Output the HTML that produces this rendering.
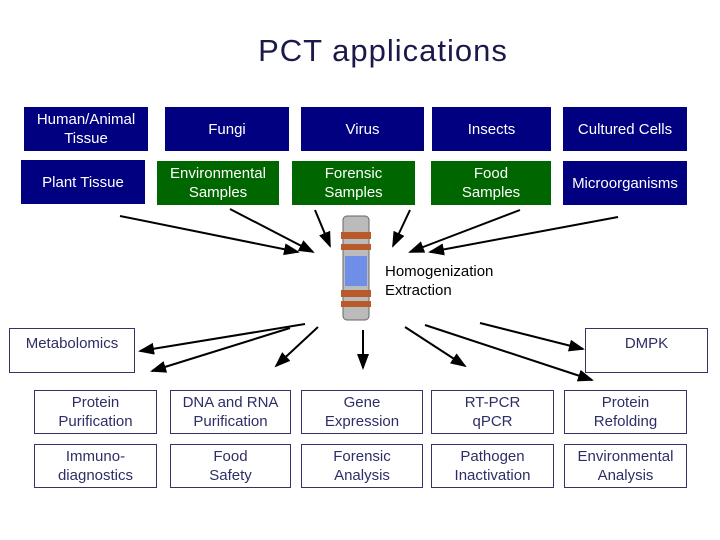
<!DOCTYPE html>
<html><head><style>
body{margin:0;width:720px;height:540px;background:#fff;font-family:"Liberation Sans",sans-serif;position:relative;overflow:hidden}
.b{position:absolute;display:flex;align-items:center;justify-content:center;text-align:center;font-size:15px;line-height:19px;box-sizing:border-box}
.n{background:#000080;color:#fff}
.g{background:#006600;color:#fff}
.o{border:1px solid #333366;color:#2e2e66;background:#fff}
</style></head><body>
<div style="position:absolute;left:0;width:766px;top:33px;text-align:center;font-size:31px;color:#1a1a4a;letter-spacing:1px">PCT applications</div>
<div class="b n" style="left:24px;top:107px;width:124px;height:44px">Human/Animal<br>Tissue</div>
<div class="b n" style="left:165px;top:107px;width:124px;height:44px">Fungi</div>
<div class="b n" style="left:301px;top:107px;width:123px;height:44px">Virus</div>
<div class="b n" style="left:432px;top:107px;width:119px;height:44px">Insects</div>
<div class="b n" style="left:563px;top:107px;width:124px;height:44px">Cultured Cells</div>
<div class="b n" style="left:21px;top:160px;width:124px;height:44px">Plant Tissue</div>
<div class="b g" style="left:157px;top:161px;width:122px;height:44px">Environmental<br>Samples</div>
<div class="b g" style="left:292px;top:161px;width:123px;height:44px">Forensic<br>Samples</div>
<div class="b g" style="left:431px;top:161px;width:120px;height:44px">Food<br>Samples</div>
<div class="b n" style="left:563px;top:161px;width:124px;height:44px">Microorganisms</div>
<div class="b" style="left:385px;top:262px;width:140px;height:38px;justify-content:flex-start;text-align:left;color:#000">Homogenization<br>Extraction</div>
<div class="b o" style="left:9px;top:328px;width:126px;height:45px;align-items:flex-start;padding-top:5px">Metabolomics</div>
<div class="b o" style="left:585px;top:328px;width:123px;height:45px;align-items:flex-start;padding-top:5px">DMPK</div>
<div class="b o" style="left:34px;top:390px;width:123px;height:44px">Protein<br>Purification</div>
<div class="b o" style="left:170px;top:390px;width:121px;height:44px">DNA and RNA<br>Purification</div>
<div class="b o" style="left:301px;top:390px;width:122px;height:44px">Gene<br>Expression</div>
<div class="b o" style="left:431px;top:390px;width:123px;height:44px">RT-PCR<br>qPCR</div>
<div class="b o" style="left:564px;top:390px;width:123px;height:44px">Protein<br>Refolding</div>
<div class="b o" style="left:34px;top:444px;width:123px;height:44px">Immuno-<br>diagnostics</div>
<div class="b o" style="left:170px;top:444px;width:121px;height:44px">Food<br>Safety</div>
<div class="b o" style="left:301px;top:444px;width:122px;height:44px">Forensic<br>Analysis</div>
<div class="b o" style="left:431px;top:444px;width:123px;height:44px">Pathogen<br>Inactivation</div>
<div class="b o" style="left:564px;top:444px;width:123px;height:44px">Environmental<br>Analysis</div>
<svg width="720" height="540" style="position:absolute;left:0;top:0">
<defs><marker id="a" markerWidth="8" markerHeight="8" refX="7" refY="4" orient="auto"><path d="M0,1 L8,4 L0,7z" fill="#000"/></marker></defs>
<g stroke="#000" stroke-width="2" marker-end="url(#a)">
<line x1="120" y1="216" x2="298" y2="252"/>
<line x1="230" y1="209" x2="313" y2="252"/>
<line x1="315" y1="210" x2="330" y2="246"/>
<line x1="410" y1="210" x2="393" y2="246"/>
<line x1="520" y1="210" x2="410" y2="252"/>
<line x1="618" y1="217" x2="430" y2="252"/>
<line x1="305" y1="324" x2="140" y2="351"/>
<line x1="290" y1="328" x2="152" y2="371"/>
<line x1="318" y1="327" x2="276" y2="366"/>
<line x1="363" y1="330" x2="363" y2="368"/>
<line x1="405" y1="327" x2="465" y2="366"/>
<line x1="425" y1="325" x2="592" y2="380"/>
<line x1="480" y1="323" x2="583" y2="349"/>
</g>
<rect x="343" y="216" width="26" height="104" rx="4" fill="#bbb" stroke="#666"/>
<rect x="341" y="232" width="30" height="7" fill="#b85a2a"/>
<rect x="341" y="244" width="30" height="6" fill="#b85a2a"/>
<rect x="345" y="256" width="22" height="30" fill="#6e8ee8"/>
<rect x="341" y="290" width="30" height="7" fill="#b85a2a"/>
<rect x="341" y="301" width="30" height="6" fill="#b85a2a"/>
</svg>
</body></html>
